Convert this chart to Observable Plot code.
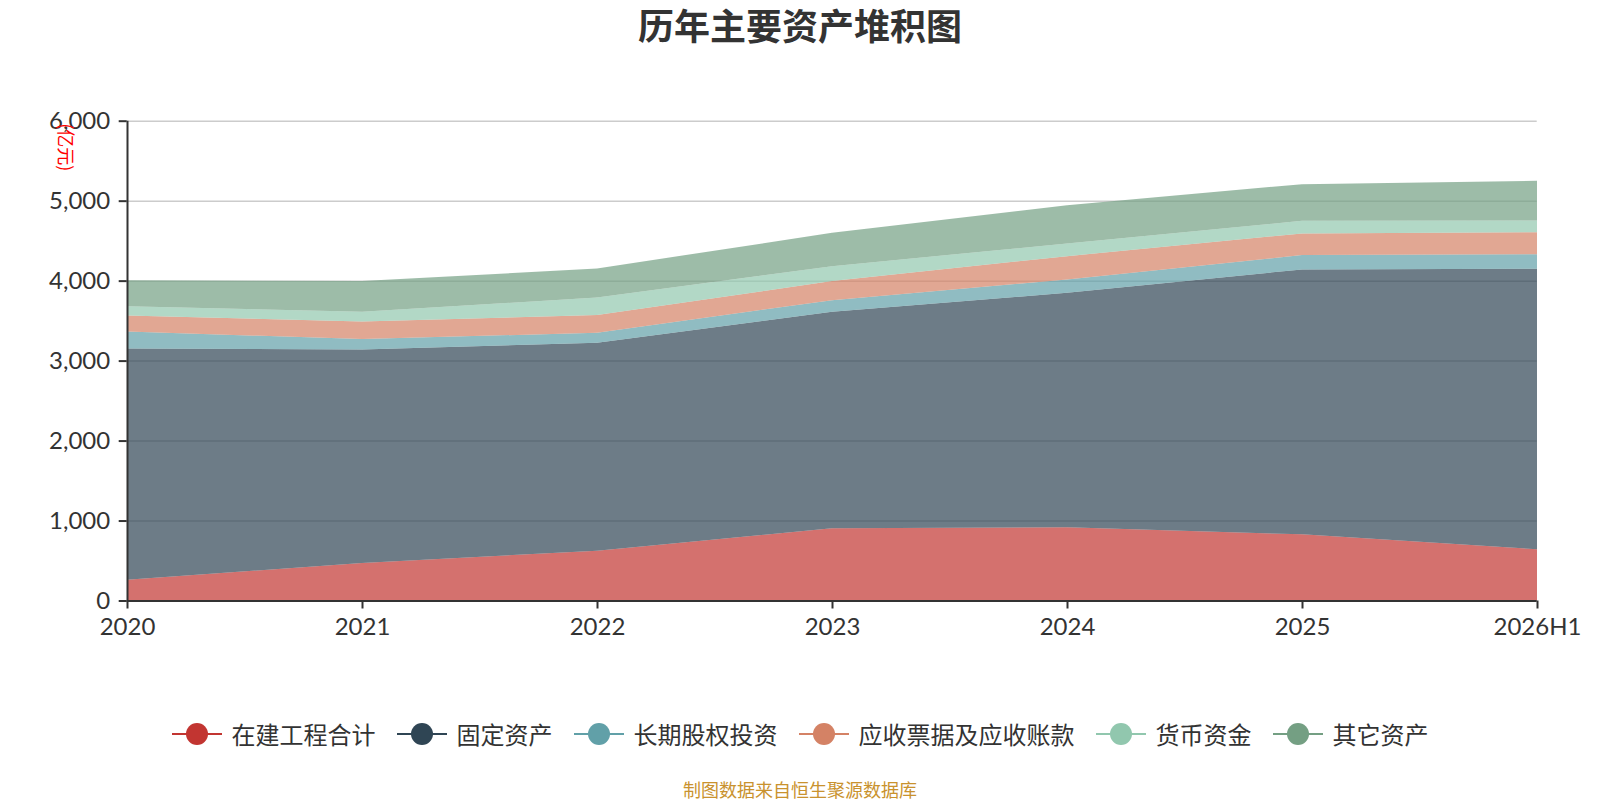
<!DOCTYPE html>
<html>
<head>
<meta charset="utf-8">
<script src="https://cdn.jsdelivr.net/npm/d3@7"></script>
<script src="https://cdn.jsdelivr.net/npm/@observablehq/plot@0.6"></script>
<style>
  html, body { margin: 0; padding: 0; background: #fff; }
  body { width: 1600px; height: 800px; position: relative; overflow: hidden;
         font-family: "Noto Sans CJK SC", "Noto Sans", sans-serif; color: #333; }
  #title { position: absolute; left: 0; top: -2px; width: 1600px; height: 52px; line-height: 52px;
           text-align: center; font-size: 36px; font-weight: bold; color: #333; }
  #chart { position: absolute; left: 0; top: 60px; }
  #legend { position: absolute; left: 0; top: 718px; width: 1600px; height: 32px;
            display: flex; justify-content: center; align-items: center; gap: 21px; }
  .item { display: flex; align-items: center; gap: 10px; font-size: 24px; color: #333; line-height: 32px; }
  .item svg { display: block; }
  #caption { position: absolute; left: 0; top: 778px; width: 1600px; line-height: 22px;
             text-align: center; font-size: 18px; color: #c9922e; }
</style>
</head>
<body>
<div id="title">历年主要资产堆积图</div>
<div id="chart"></div>
<div id="legend"></div>
<div id="caption">制图数据来自恒生聚源数据库</div>
<script>
const years = ["2020", "2021", "2022", "2023", "2024", "2025", "2026H1"];
const seriesNames = ["在建工程合计", "固定资产", "长期股权投资", "应收票据及应收账款", "货币资金", "其它资产"];
const seriesColors = ["#c23531", "#2f4554", "#61a0a8", "#d48265", "#91c7ae", "#749f83"];
const constructionInProgress = [260, 469, 623, 902, 915, 827, 640];
const fixedAssets = [2892, 2671, 2600, 2708, 2933, 3313, 3508];
const longTermEquity = [213, 129, 125, 146, 167, 179, 183];
const receivables = [200, 221, 221, 238, 291, 271, 275];
const cash = [116, 120, 221, 187, 159, 158, 146];
const otherAssets = [325, 384, 362, 417, 479, 458, 496];
const yTicks = [0, 1000, 2000, 3000, 4000, 5000, 6000];
const unitLabel = "(亿元)";

const seriesValues = [constructionInProgress, fixedAssets, longTermEquity, receivables, cash, otherAssets];
const rows = [];
seriesNames.forEach((name, si) => {
  years.forEach((yr, i) => rows.push({ year: yr, series: name, value: seriesValues[si][i] }));
});

const axisFont = "Lato, 'Noto Sans', sans-serif";
const chart = Plot.plot({
  width: 1600,
  height: 600,
  marginLeft: 126.7,
  marginRight: 63.3,
  marginTop: 60.7,
  marginBottom: 59.5,
  style: { fontFamily: "'Noto Sans CJK SC', 'Noto Sans', sans-serif", color: "#333", background: "#fff" },
  x: { type: "point", domain: years, padding: 0 },
  y: { domain: [0, 6000] },
  color: { domain: seriesNames, range: seriesColors },
  marks: [
    Plot.ruleY(yTicks.filter(d => d > 0), { stroke: "#cccccc", strokeWidth: 1.5 }),
    Plot.areaY(rows, { x: "year", y: "value", fill: "series", fillOpacity: 0.7, order: seriesNames }),
    Plot.ruleY([0], { stroke: "#333", strokeWidth: 2 }),
    Plot.ruleX([years[0]], { stroke: "#333", strokeWidth: 2 }),
    Plot.axisY({ ticks: yTicks, tickSize: 8, tickPadding: 9, fontSize: 24, fontFamily: axisFont,
                 stroke: "#333", strokeWidth: 2, fill: "#333", tickFormat: d3.format(","), label: null }),
    Plot.axisX({ tickSize: 8, tickPadding: 9, fontSize: 24, fontFamily: axisFont,
                 stroke: "#333", strokeWidth: 2, fill: "#333", label: null }),
    Plot.text([unitLabel], { frameAnchor: "top-left", dx: -62, dy: 2, rotate: 90, textAnchor: "start",
                             lineAnchor: "middle", fill: "red", fontSize: 18 })
  ]
});
document.getElementById("chart").appendChild(chart);

const legend = document.getElementById("legend");
seriesNames.forEach((name, i) => {
  const item = document.createElement("div");
  item.className = "item";
  const c = seriesColors[i];
  item.innerHTML = `<svg width="50" height="24" viewBox="0 0 50 24"><line x1="0" y1="12" x2="50" y2="12" stroke="${c}" stroke-width="2"/><circle cx="25" cy="12" r="11" fill="${c}"/></svg><span>${name}</span>`;
  legend.appendChild(item);
});
</script>
</body>
</html>
